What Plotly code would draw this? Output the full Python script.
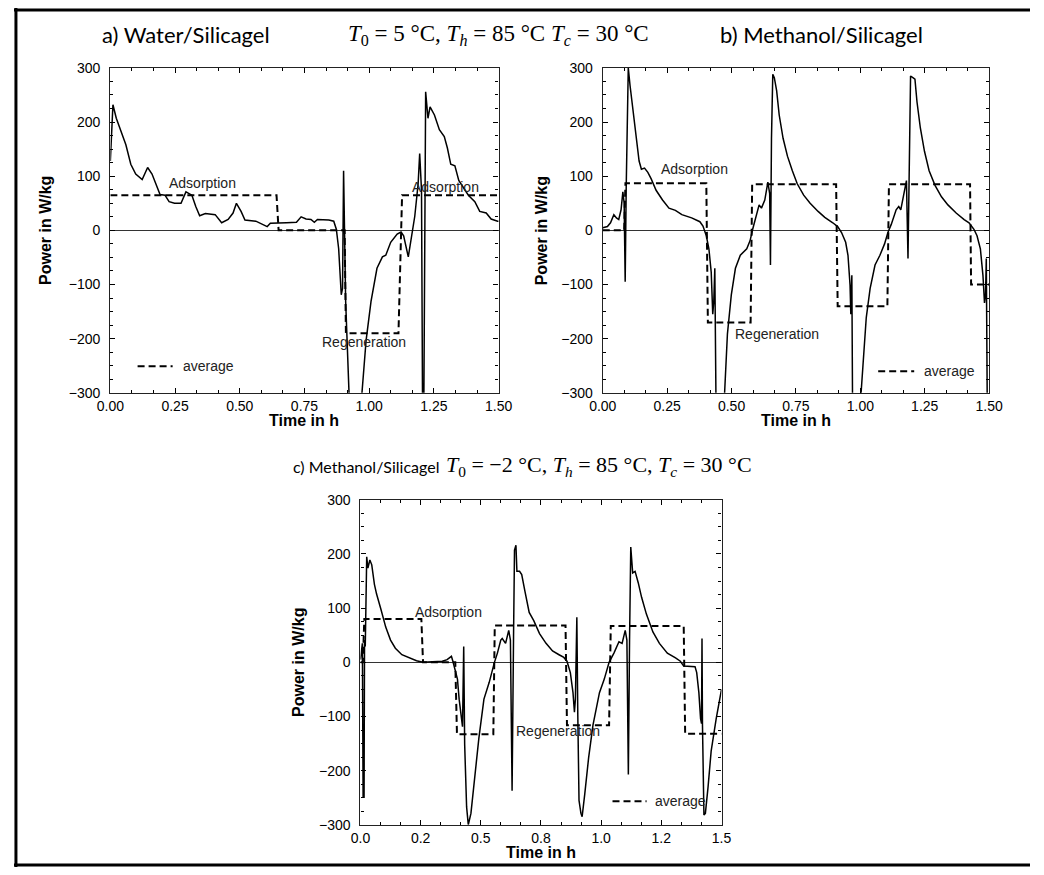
import plotly.graph_objects as go

W, H = 1044, 875

# ---------------- data ----------------
# a) Water/Silicagel
A_T = [0, 0.010, 0.023, 0.041, 0.060, 0.079, 0.098, 0.123, 0.144, 0.161,
       0.179, 0.192, 0.211, 0.227, 0.248, 0.273, 0.292, 0.315, 0.330, 0.345,
       0.367, 0.405, 0.430, 0.455, 0.474, 0.487, 0.505, 0.520, 0.562, 0.593,
       0.606, 0.618, 0.643, 0.681, 0.719, 0.737, 0.756, 0.775, 0.788, 0.800,
       0.844, 0.863, 0.873, 0.882, 0.892, 0.897, 0.901, 0.904, 0.909, 0.922,
       0.945, 0.972, 0.988, 1.007, 1.030, 1.051, 1.064, 1.083, 1.108, 1.123,
       1.133, 1.151, 1.164, 1.176, 1.189, 1.195, 1.202, 1.206, 1.211, 1.218,
       1.227, 1.235, 1.252, 1.271, 1.290, 1.302, 1.315, 1.331, 1.346, 1.365,
       1.383, 1.408, 1.427, 1.452, 1.471, 1.496, 1.500]
A_P = [128, 232, 207, 183, 158, 122, 104, 94, 116, 104,
       83, 66, 65, 53, 50, 50, 71, 65, 44, 27,
       31, 29, 14, 20, 32, 50, 35, 19, 17, 11,
       7, 13, 13, 14, 15, 25, 21, 20, 15, 20,
       19, 17, 2, -34, -119, -107, 110, -10, -131, -300,
       -360, -300, -203, -131, -70, -49, -46, -22, -7, -3,
       -10, -49, -10, 26, 86, 142, 74, -320, -320, 256,
       207, 228, 213, 186, 173, 152, 122, 119, 92, 77,
       65, 53, 35, 32, 21, 17, 17]
A_AVG_T = [0, 0.642, 0.650, 0.905, 0.910, 1.113, 1.127, 1.5]
A_AVG_P = [65, 65, 0, 0, -190, -190, 65, 65]

# b) Methanol/Silicagel
B_T = [0, 0.018, 0.030, 0.043, 0.053, 0.062, 0.071, 0.078, 0.083, 0.087,
       0.091, 0.099, 0.106, 0.112, 0.118, 0.128, 0.141, 0.150, 0.162, 0.175,
       0.188, 0.207, 0.232, 0.257, 0.282, 0.307, 0.345, 0.377, 0.389, 0.402,
       0.412, 0.421, 0.427, 0.431, 0.435, 0.440, 0.471, 0.484, 0.499, 0.515,
       0.534, 0.559, 0.572, 0.582, 0.594, 0.607, 0.616, 0.629, 0.641, 0.648,
       0.651, 0.655, 0.660, 0.666, 0.675, 0.685, 0.700, 0.717, 0.736, 0.755,
       0.780, 0.805, 0.836, 0.862, 0.893, 0.912, 0.927, 0.943, 0.952, 0.960,
       0.963, 0.967, 0.970, 1.000, 1.010, 1.023, 1.038, 1.057, 1.076, 1.094,
       1.107, 1.120, 1.139, 1.149, 1.157, 1.170, 1.179, 1.185, 1.189, 1.195,
       1.204, 1.212, 1.220, 1.233, 1.249, 1.267, 1.290, 1.315, 1.340, 1.372,
       1.403, 1.422, 1.441, 1.453, 1.466, 1.476, 1.482, 1.486, 1.489, 1.493,
       1.500]
B_P = [5, 7, 14, 29, 23, 20, 38, 71, 50, -95,
       80, 300, 267, 243, 213, 170, 128, 113, 115, 107,
       95, 74, 56, 41, 37, 29, 23, 16, 8, -10,
       -34, -77, -155, -131, -70, -340, -320, -191, -119, -70,
       -46, -34, -19, 2, 26, 47, 41, 56, 89, 68,
       -64, 170, 288, 282, 258, 213, 170, 137, 110, 86,
       65, 50, 35, 24, 14, 7, -4, -22, -46, -101,
       -155, -83, -340, -320, -251, -161, -107, -64, -46, -25,
       -4, 11, 38, 44, 38, 74, 92, -52, 98, 285,
       282, 279, 237, 189, 146, 110, 83, 62, 47, 32,
       20, 14, 2, -10, -34, -83, -134, -119, -52, -340,
       -340]
B_AVG_T = [0, 0.083, 0.088, 0.402, 0.408, 0.574, 0.580, 0.906, 0.912,
           1.105, 1.111, 1.426, 1.430, 1.5]
B_AVG_P = [0, 0, 87, 87, -170, -170, 85, 85, -140, -140, 85, 85, -100, -100]

# c) Methanol/Silicagel, T0 = -2 C
C_T = [0, 0.004, 0.008, 0.011, 0.015, 0.017, 0.020, 0.026, 0.031, 0.039,
       0.047, 0.058, 0.067, 0.085, 0.105, 0.125, 0.145, 0.172, 0.206, 0.233,
       0.260, 0.300, 0.340, 0.360, 0.378, 0.384, 0.394, 0.403, 0.410, 0.418,
       0.424, 0.429, 0.433, 0.441, 0.448, 0.459, 0.475, 0.492, 0.513, 0.535,
       0.556, 0.569, 0.583, 0.589, 0.603, 0.616, 0.623, 0.630, 0.636, 0.640,
       0.646, 0.650, 0.661, 0.670, 0.683, 0.701, 0.720, 0.744, 0.771, 0.798,
       0.825, 0.845, 0.858, 0.872, 0.883, 0.889, 0.893, 0.899, 0.903, 0.908,
       0.916, 0.921, 0.932, 0.948, 0.966, 0.993, 1.013, 1.033, 1.053, 1.074,
       1.087, 1.100, 1.107, 1.113, 1.118, 1.123, 1.131, 1.141, 1.154, 1.168,
       1.188, 1.215, 1.242, 1.275, 1.309, 1.329, 1.343, 1.363, 1.390, 1.397,
       1.406, 1.413, 1.417, 1.419, 1.421, 1.427, 1.433, 1.444, 1.457, 1.478,
       1.500]
C_P = [5, 29, 35, -249, -249, 41, 29, 195, 174, 189,
       180, 144, 126, 98, 65, 41, 26, 14, 8, 3,
       0, 1, 2, 5, 11, 2, -13, -31, -68, -98,
       -119, 29, -152, -267, -300, -279, -213, -140, -68, -37,
       -1, 17, 41, 44, 35, 59, 41, -237, 47, 207,
       216, 168, 168, 162, 132, 92, 77, 53, 35, 21,
       14, 9, 2, -19, -56, -92, -68, 83, -98, -255,
       -279, -285, -243, -176, -116, -56, -31, 0, 17, 38,
       35, 59, 41, -207, 41, 213, 165, 168, 147, 120,
       89, 56, 35, 17, 8, 2, -7, -8, -8, -19,
       -56, -104, -113, 44, -116, -282, -279, -231, -164, -104,
       -50]
C_AVG_T = [0, 0.010, 0.016, 0.253, 0.260, 0.394, 0.401, 0.552, 0.558,
           0.852, 0.858, 1.033, 1.040, 1.343, 1.349, 1.5]
C_AVG_P = [0, 0, 80, 80, 0, 0, -133, -133, 68, 68, -116, -116, 67, 67, -132, -132]

X_TICKS = [0, 0.25, 0.5, 0.75, 1.0, 1.25, 1.5]
X_TEXT_AB = ["0.00", "0.25", "0.50", "0.75", "1.00", "1.25", "1.50"]
X_TEXT_C = ["0.0", "0.2", "0.5", "0.8", "1.0", "1.2", "1.5"]
Y_TICKS = [-300, -200, -100, 0, 100, 200, 300]

TITLE_A = "a) Water/Silicagel"
TITLE_B = "b) Methanol/Silicagel"
TITLE_C = "c) Methanol/Silicagel"
MATH_A = ("<i>T</i><sub>0</sub> = 5 °C, <i>T</i><sub><i>h</i></sub> = 85 °C "
          "<i>T</i><sub><i>c</i></sub> = 30 °C")
MATH_C = ("<i>T</i><sub>0</sub> = −2 °C, <i>T</i><sub><i>h</i></sub> = 85 °C, "
          "<i>T</i><sub><i>c</i></sub> = 30 °C")

# ---------------- layout helpers ----------------
def px(x):
    return x / W

def py(y):
    return 1 - y / H

SANS = "Liberation Sans, Arial, sans-serif"
TSANS = "Lato, DejaVu Sans, sans-serif"
SERIF = "Liberation Serif, DejaVu Serif, serif"

fig = go.Figure()

panels = [
    ("x", "y", A_T, A_P, A_AVG_T, A_AVG_P),
    ("x2", "y2", B_T, B_P, B_AVG_T, B_AVG_P),
    ("x3", "y3", C_T, C_P, C_AVG_T, C_AVG_P),
]
for xa, ya, t, p, at, ap in panels:
    fig.add_trace(go.Scatter(x=t, y=p, xaxis=xa, yaxis=ya, mode="lines",
                             line=dict(color="black", width=1.5),
                             showlegend=False, hoverinfo="skip"))
    fig.add_trace(go.Scatter(x=at, y=ap, xaxis=xa, yaxis=ya, mode="lines",
                             line=dict(color="black", width=2, dash="7px,4px"),
                             showlegend=False, hoverinfo="skip"))

domains = {
    "1": ((99, 498), (61, 392)),
    "2": ((605, 1002), (61, 392)),
    "3": ((356, 727), (501, 832)),
}

def xaxis(dom, ticktext):
    return dict(domain=[px(dom[0]), px(dom[1])], range=[0, 1.5],
                tickmode="array", tickvals=X_TICKS, ticktext=ticktext,
                ticks="inside", ticklen=5, tickcolor="black", tickwidth=1,
                minor=dict(ticks="inside", ticklen=3, tickmode="linear",
                           tick0=0, dtick=1 / 12, tickcolor="black", showgrid=False),
                showline=True, linecolor="#222", linewidth=1.3, mirror="ticks",
                showgrid=False, zeroline=False,
                tickfont=dict(family=SANS, size=14, color="black"))

def yaxis(dom):
    return dict(domain=[py(dom[1]), py(dom[0])], range=[-300, 300],
                tickmode="array", tickvals=Y_TICKS,
                ticks="inside", ticklen=5, tickcolor="black", tickwidth=1,
                minor=dict(ticks="inside", ticklen=3, tickmode="linear",
                           tick0=0, dtick=25, tickcolor="black", showgrid=False),
                showline=True, linecolor="#222", linewidth=1.3, mirror="ticks",
                showgrid=False, zeroline=True, zerolinecolor="#333",
                zerolinewidth=1, ticklabelstandoff=6,
                tickfont=dict(family=SANS, size=14, color="black"))

fig.update_layout(
    width=W, height=H, margin=dict(l=0, r=0, t=0, b=0),
    paper_bgcolor="white", plot_bgcolor="white",
    xaxis=dict(xaxis(domains["1"][0], X_TEXT_AB), anchor="y"),
    yaxis=dict(yaxis(domains["1"][1]), anchor="x"),
    xaxis2=dict(xaxis(domains["2"][0], X_TEXT_AB), anchor="y2"),
    yaxis2=dict(yaxis(domains["2"][1]), anchor="x2"),
    xaxis3=dict(xaxis(domains["3"][0], X_TEXT_C), anchor="y3"),
    yaxis3=dict(yaxis(domains["3"][1]), anchor="x3"),
)

ann = []

def text(x, y, s, size=14, family=SANS, anchor="center", bold=False, angle=0,
         color="black"):
    if bold:
        s = "<b>" + s + "</b>"
    ann.append(dict(x=px(x), y=py(y), xref="paper", yref="paper", text=s,
                    showarrow=False, xanchor=anchor, yanchor="middle",
                    textangle=angle,
                    font=dict(family=family, size=size, color=color)))

# titles
text(88, 27, TITLE_A, size=22, family=TSANS, anchor="left")
text(341, 27, MATH_A, size=23, family=SERIF, anchor="left")
text(723, 27, TITLE_B, size=22, family=TSANS, anchor="left")
text(285, 467, TITLE_C, size=16, family=TSANS, anchor="left")
text(442, 467, MATH_C, size=22, family=SERIF, anchor="left")

# axis titles
for (x0, x1), (y0, y1) in domains.values():
    text((x0 + x1) / 2, y1 + 28, "Time in h", size=16, bold=True)
text(33, 227, "Power in W/kg", size=16, bold=True, angle=-90)
text(542, 227, "Power in W/kg", size=16, bold=True, angle=-90)
text(293, 667, "Power in W/kg", size=16, bold=True, angle=-90)

# in-plot labels
LBL = "#222"
text(194, 178, "Adsorption", color=LBL)
text(443, 182, "Adsorption", color=LBL)
text(360, 340, "Regeneration", color=LBL)
text(699, 164, "Adsorption", color=LBL)
text(784, 332, "Regeneration", color=LBL)
text(446, 615, "Adsorption", color=LBL)
text(559, 736, "Regeneration", color=LBL)
text(172, 365, "average", anchor="left", color=LBL)
text(933, 370, "average", anchor="left", color=LBL)
text(657, 808, "average", anchor="left", color=LBL)

fig.update_layout(annotations=ann)

# legend sample lines and figure frame
shapes = []
for x0, x1, y in [(127, 163, 365), (888, 925, 370), (615, 650, 808)]:
    shapes.append(dict(type="line", xref="paper", yref="paper",
                       x0=px(x0), x1=px(x1), y0=py(y), y1=py(y),
                       line=dict(color="black", width=2, dash="7px,4px")))
for x0, y0, x1, y1 in [(0, 2, W, 2), (2, 0, 2, H), (0, 873, W, 873)]:
    shapes.append(dict(type="line", xref="paper", yref="paper",
                       x0=px(x0), x1=px(x1), y0=py(y0), y1=py(y1),
                       line=dict(color="black", width=3)))
fig.update_layout(shapes=shapes)

fig.write_html("out.html", config={"displayModeBar": False},
               post_script="document.body.style.margin='0';"
                           "document.body.style.overflow='hidden';")
